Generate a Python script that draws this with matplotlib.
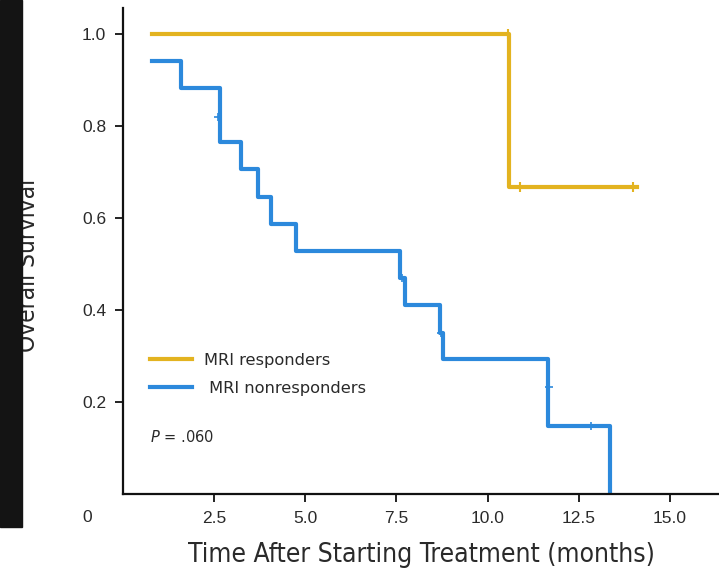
import numpy as np
import matplotlib.pyplot as plt
from matplotlib.patches import Rectangle

# ---- data ----
resp_t = [0.8, 10.6, 14.1]
resp_s = [1.0, 0.667, 0.667]
resp_cens_t = [10.55, 10.9, 14.0]
resp_cens_s = [1.0, 0.667, 0.667]

nonresp_t = [0.8, 1.6, 2.65, 3.25, 3.7, 4.05, 4.75, 7.6, 7.75, 8.7, 8.78, 11.65, 13.35]
nonresp_s = [0.941, 0.882, 0.765, 0.706, 0.647, 0.588, 0.529, 0.47, 0.41, 0.35,
             0.294, 0.147, 0.0]
nonresp_cens_t = [2.62, 7.65, 8.72, 11.68, 12.85]
nonresp_cens_s = [0.82, 0.47, 0.35, 0.233, 0.147]

yticks = [0.2, 0.4, 0.6, 0.8, 1.0]
xticks = [2.5, 5.0, 7.5, 10.0, 12.5, 15.0]

YELLOW = "#E3B320"
BLUE = "#2C89DC"
TXT = "#2a2a2a"

fig = plt.figure(figsize=(7.19, 5.75), dpi=100)
ax = fig.add_axes([0.171, 0.141, 0.829, 0.845])

ax.step(resp_t, resp_s, where="post", color=YELLOW, lw=3.0, label="MRI responders")
ax.plot(resp_cens_t, resp_cens_s, "|", color=YELLOW, ms=7, mew=1.5)

ax.step(nonresp_t, nonresp_s, where="post", color=BLUE, lw=3.0,
        label=" MRI nonresponders")
ax.plot(nonresp_cens_t, nonresp_cens_s, "+", color=BLUE, ms=6, mew=1.2)

ax.set_xlim(0, 16.35)
ax.set_ylim(0, 1.057)
ax.set_xticks(xticks)
ax.set_xticklabels([f"{v:.1f}" for v in xticks])
ax.set_yticks(yticks)
ax.set_yticklabels([f"{v:.1f}" for v in yticks])

for sp in ["top", "right"]:
    ax.spines[sp].set_visible(False)
for sp in ["left", "bottom"]:
    ax.spines[sp].set_linewidth(1.6)
    ax.spines[sp].set_color("#111111")

ax.tick_params(direction="out", length=6, width=1.3, colors="#111111",
               labelsize=12.5, labelcolor=TXT, pad=6)
for lab in ax.get_xticklabels() + ax.get_yticklabels():
    lab.set_family("Liberation Sans")

ax.set_xlabel("Time After Starting Treatment (months)", fontsize=19,
              family="DejaVu Sans", fontstretch="condensed", color=TXT,
              labelpad=12)
ax.set_ylabel("Overall Survival", fontsize=17.5,
              family="DejaVu Sans", fontstretch="condensed", color=TXT)
ax.yaxis.set_label_coords(-0.14, 0.47)

fig.text(87 / 719, 1 - 518 / 575, "0", fontsize=12.5, family="Liberation Sans",
         color=TXT, ha="center", va="center")

leg = ax.legend(loc="upper left", bbox_to_anchor=(0.045, 0.29), frameon=False,
                borderaxespad=0, borderpad=0, handlelength=2.6, handletextpad=0.75,
                labelspacing=0.8, prop={"family": "DejaVu Sans", "size": 11.7})
for t in leg.get_texts():
    t.set_color(TXT)

ax.text(0.045, 0.117, "$P$ = .060", transform=ax.transAxes, fontsize=10.5,
        family="DejaVu Sans", color=TXT, va="center")

# dark strip on the left edge of the screenshot
fig.add_artist(Rectangle((0, 1 - 527 / 575), 22 / 719, 527 / 575,
                         transform=fig.transFigure, color="#141414", zorder=10))

fig.savefig("out.png", dpi=100)
